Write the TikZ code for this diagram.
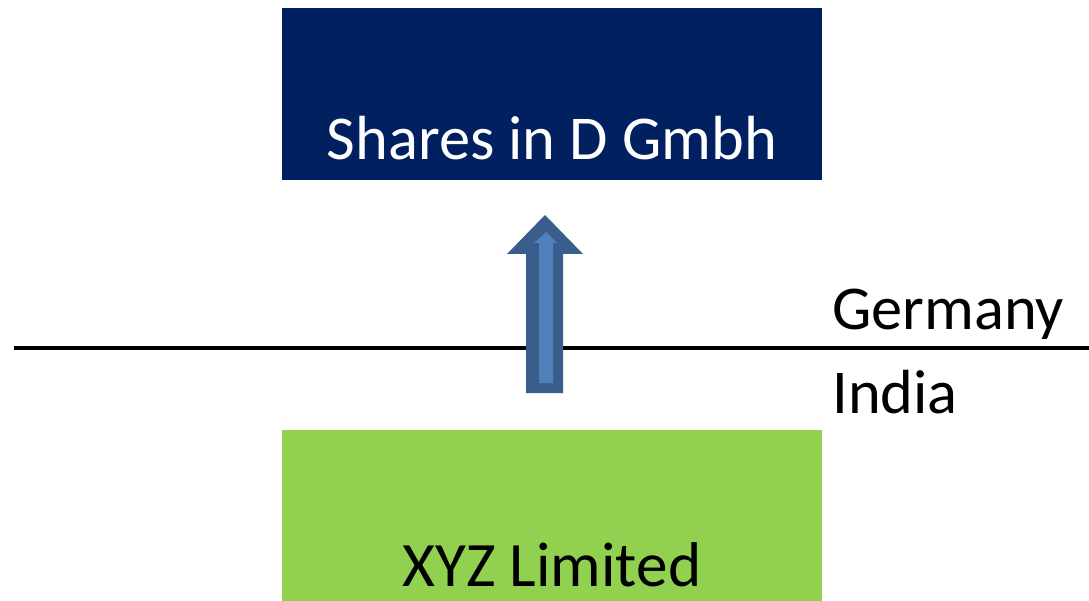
\documentclass[tikz,border=0pt]{standalone}
\usepackage{fontspec}
\setmainfont{Carlito}
\usepackage{tikz}
\definecolor{navy}{HTML}{002060}
\definecolor{leaf}{HTML}{92D050}
\definecolor{arrowdark}{HTML}{3A5E8C}
\definecolor{arrowlight}{HTML}{4F81BD}

\begin{document}
\begin{tikzpicture}[x=0.02cm,y=-0.02cm,
		box/.style={minimum width=10.8cm,minimum height=3.44cm,inner sep=0pt,draw=none},
		label/.style={font=\fontsize{35.5}{40}\selectfont,inner sep=0pt,anchor=base west}]
			\useasboundingbox (0,0) rectangle (1089,601);
			\coordinate (lineleft) at (14,348);
			\coordinate (lineright) at (1089,348);
			
			\node[box,fill=navy] (shares) at (552,94) {};
			\node[box,fill=leaf] (xyz) at (552,516) {};
			\node[label,anchor=base,text=white] (sharestext) at (552,160) {Shares in D Gmbh};
			\node[label,anchor=base,font=\fontsize{36}{40}\selectfont] (xyztext) at (552,586) {XYZ Limited};
			
			\draw[line width=2.2pt] (lineleft) -- (lineright);
			\node[label] (germany) at (832,330) {Germany};
			\node[label] (india) at (832,413) {India};
			
			% block arrow
			\fill[arrowdark] (526,393) -- (563,393) -- (563,254) -- (583,254) -- (545,215)
				-- (507,254) -- (526,254) -- cycle;
			\fill[arrowlight] (539,383) -- (553,383) -- (553,243) -- (557,243) -- (546,232)
				-- (534,243) -- (539,243) -- cycle;
		\end{tikzpicture}
\end{document}
